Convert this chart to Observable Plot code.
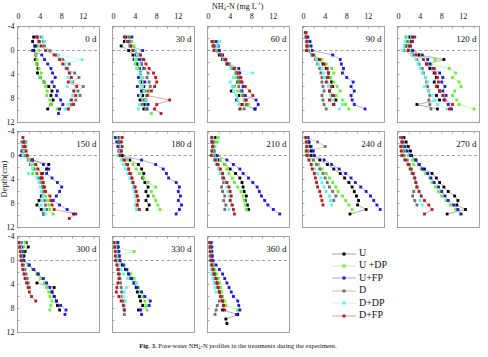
<!DOCTYPE html>
<html><head><meta charset="utf-8">
<script src="https://cdn.jsdelivr.net/npm/d3@7"></script>
<script src="https://cdn.jsdelivr.net/npm/@observablehq/plot@0.6"></script>
<style>
body{margin:0;background:#fff;}
#wrap{position:relative;width:488px;height:357px;font-family:"Liberation Serif","Times New Roman",serif;color:#111;overflow:hidden;}
#wrap svg.plot{position:absolute;left:0;top:0;}
.xt{position:absolute;left:212px;top:1px;font-size:8px;white-space:nowrap;}
.ss{display:inline-block;vertical-align:middle;line-height:4px;font-size:5px;text-align:left;}
.yt{position:absolute;left:-18px;top:174px;font-size:8.5px;transform:rotate(-90deg);transform-origin:center;width:44px;text-align:center;}
.leg{position:absolute;left:332px;top:247px;font-size:10px;}
.leg div{height:12.4px;line-height:12.4px;white-space:nowrap;}
.leg svg{vertical-align:middle;margin-right:3px;}
.cap{position:absolute;left:0;width:476px;top:342px;text-align:center;font-size:6.6px;white-space:nowrap;}
</style></head><body><div id="wrap"></div><script>
const _ = null;
const days = ["0 d","30 d","60 d","90 d","120 d","150 d","180 d","210 d","240 d","270 d","300 d","330 d","360 d"];
const depths = [-3, -2.25, -1.5, -0.75, 0, 0.75, 1.5, 2.25, 3, 3.75, 4.5, 5.25, 6, 6.75, 7.5, 8.25, 9, 9.75, 10.5];
const treatments = ["U", "U +DP", "U+FP", "D", "D+DP", "D+FP"];
const dotColors = ["#000000", "#66ee33", "#1c1cd6", "#707070", "#5ff0f0", "#c01818"];
const lineColors = ["#8a8a8a", "#a8f590", "#8c8cf0", "#b0b0b0", "#a8f8f8", "#e08080"];
const xTicks = [0, 4, 8, 12];
const yTicks = [-4, 0, 4, 8, 12];
const minorX = [0, 2, 4, 6, 8, 10, 12, 14];
const minorY = [-4, -2, 0, 2, 4, 6, 8, 10, 12];

// NH4+-N (mg/L) per panel (rows = days), aligned with depths
const U = [
 [_, 2.8, 2.6, 3.0, 2.8, 3.2, 3.1, 3.4, 3.6, 3.5, 4.0, 4.7, 5.6, 6.2, 6.0, 6.4, 6.0, 5.4, _],
 [_, 2.2, 2.0, 1.4, 2.8, 3.6, 3.8, 4.4, 4.8, 5.0, 5.4, 5.0, 5.6, 5.2, 5.4, 4.9, 5.8, 5.6, _],
 [_, _, 0.8, 1.0, 1.2, 2.0, 2.6, 3.4, 4.6, 5.2, 5.6, 5.4, 4.6, 4.2, 5.6, 5.2, 6.2, 8.6, _],
 [0.4, 0.5, 0.6, 0.7, 0.8, 1.6, 2.6, 3.6, 4.2, 4.6, 4.8, 5.2, 5.4, 4.8, 5.6, 6.0, 5.6, _, _],
 [_, 2.0, 2.4, 1.4, 1.8, 3.8, 8.4, 5.2, 5.8, 6.6, 7.0, 6.6, 7.2, 7.6, 7.0, 7.6, 3.4, 7.2, _],
 [_, 1.0, 1.2, 1.0, 0.8, 2.6, 5.6, 5.2, 4.4, 4.2, 4.0, 4.6, 4.8, 4.2, 3.8, 3.4, 4.2, 4.6, _],
 [0.8, 1.0, 1.2, 1.4, 1.6, 3.0, 4.6, 5.2, 5.6, 5.4, 5.8, 6.4, 6.0, 6.4, 6.0, 6.6, 6.2, _, _],
 [1.2, 1.0, 0.9, 0.8, 0.9, 2.0, 3.0, 4.0, 5.0, 5.8, 6.2, 6.4, 6.6, 7.0, 6.8, 7.2, 7.4, _, _],
 [0.8, 1.0, 1.2, 1.4, 1.4, 3.0, 4.4, 5.6, 6.8, 7.6, 8.4, 9.0, 9.4, 9.8, 10.2, 10.0, 11.6, 8.6, _],
 [1.0, 1.4, 1.8, 2.2, 2.4, 3.2, 3.8, 4.8, 6.2, 7.0, 7.6, 8.4, 9.2, 10.4, 11.0, 10.8, 12.4, 9.0, _],
 [1.4, 1.8, 1.2, 1.0, 0.8, 1.8, 2.8, 3.6, 4.2, 3.4, 6.6, 6.2, 6.6, 7.0, 7.2, 7.6, _, _, _],
 [0.6, 0.7, 0.8, 0.8, 0.9, 1.6, 2.2, 2.8, 3.4, 3.8, 4.2, 4.4, 4.8, 5.0, 5.4, 4.6, _, _, _],
 [0.3, 0.4, 0.5, 0.6, 0.6, 0.8, 1.0, 1.2, 1.4, 1.6, 1.8, 2.0, 2.4, 2.6, 2.8, 2.6, 5.4, 3.2, 3.4]
];
const U_DP = [
 [_, 3.6, 3.9, 3.5, 3.8, 3.2, 3.4, 3.3, 3.8, 4.2, 4.0, 4.6, 5.0, 5.3, 5.2, 5.8, 6.0, 7.2, _],
 [_, 3.0, 3.4, 3.8, 4.0, 4.2, 4.4, 4.0, 4.6, 5.0, 5.2, 5.6, 5.4, 6.0, 6.4, 5.8, 6.2, 6.0, 7.0],
 [_, _, 1.0, 1.2, 1.6, 2.4, 2.8, 3.8, 4.6, 5.0, 5.2, 5.6, 4.8, 5.4, 6.2, 6.6, 7.4, 6.0, _],
 [_, 0.6, 0.8, 1.2, 0.6, 2.0, 3.4, 4.2, 5.2, 5.6, 5.0, 5.6, 6.2, 6.8, 6.0, 7.2, 7.8, 8.4, _],
 [_, 2.4, 2.0, 1.8, 2.2, 4.2, 6.8, 6.0, 9.4, 10.6, 10.0, 11.2, 11.6, 10.4, 10.0, 10.8, 11.2, 14.0, _],
 [_, 1.4, 1.2, 1.0, 1.4, 2.2, 2.8, 3.2, 2.6, 3.6, 4.2, 4.8, 4.6, 5.0, 5.4, 5.6, 5.8, 6.4, _],
 [0.6, 0.8, 1.0, 1.2, 0.8, 2.6, 3.6, 4.2, 4.8, 5.6, 6.4, 7.8, 7.0, 7.4, 7.8, 8.2, 8.6, _, _],
 [1.8, 1.6, 1.2, 1.0, 1.2, 2.2, 3.0, 3.4, 3.8, 4.4, 4.8, 5.4, 6.0, 6.4, 6.6, 6.8, 7.0, _, _],
 [0.5, 0.6, 0.8, 0.8, 0.9, 1.8, 2.8, 3.4, 4.2, 4.8, 5.4, 6.0, 6.4, 7.2, 7.8, 8.4, 9.0, _, _],
 [0.6, 0.8, 1.0, 1.2, 1.8, 2.6, 2.8, 4.2, 5.0, 5.8, 6.2, 6.8, 7.4, 8.0, 8.8, 9.6, 10.6, 11.4, _],
 [1.2, 1.0, 0.8, 0.7, 0.9, 1.8, 2.6, 3.4, 4.2, 4.8, 5.2, 5.6, 5.8, 6.2, 6.0, 5.8, _, _, _],
 [0.4, 0.6, 3.8, 0.8, 1.0, 2.0, 2.6, 3.2, 3.8, 4.2, 4.6, 5.0, 5.4, 5.8, 6.0, 6.2, _, _, _],
 [0.4, 0.5, 0.6, 0.5, 0.6, 0.9, 1.2, 1.5, 1.8, 2.0, 2.2, 2.4, 2.6, 3.0, 3.2, 5.4, _, _, _]
];
const U_FP = [
 [_, 3.4, 3.8, 3.2, 2.6, 4.3, 4.8, 5.4, 6.0, 6.3, 6.8, 6.2, 6.6, 7.2, 7.0, 7.8, 8.2, 7.6, 7.4],
 [_, 3.4, 2.6, 3.0, 5.4, 4.2, 4.8, 5.2, 5.6, 5.0, 4.6, 5.8, 4.4, 5.6, 4.6, 6.0, 6.4, 6.2, _],
 [_, _, 1.4, 1.8, 2.0, 2.6, 3.2, 3.8, 5.6, 5.8, 5.6, 6.0, 6.4, 6.2, 6.8, 8.8, 9.2, 8.6, _],
 [0.4, 0.8, 1.2, 1.4, 1.6, 5.4, 6.8, 7.0, 7.4, 7.2, 8.0, 9.2, 8.8, 9.4, 8.8, 9.0, 9.4, 11.4, _],
 [_, 2.6, 2.4, 2.2, 2.6, 4.4, 5.4, 5.8, 6.6, 7.6, 8.2, 8.0, 8.6, 8.2, 8.8, 8.4, 9.2, 9.8, _],
 [_, 1.2, 1.0, 0.6, 0.4, 2.6, 4.6, 5.6, 5.2, 6.2, 7.2, 8.0, 7.6, 7.0, 6.4, 7.6, 9.0, 10.2, _],
 [0.3, 0.6, 0.8, 1.0, 1.2, 5.2, 7.8, 9.2, 9.8, 10.2, 11.6, 12.2, 12.0, 12.4, 12.0, 12.6, 12.2, 11.6, _],
 [0.8, 0.6, 0.8, 1.0, 1.6, 3.4, 4.6, 5.8, 6.4, 7.4, 8.2, 9.0, 9.4, 9.8, 10.4, 11.0, 12.0, 13.2, _],
 [0.8, 1.0, 1.4, 1.8, 2.0, 3.8, 5.2, 6.6, 7.8, 8.8, 9.6, 10.6, 11.6, 12.4, 13.0, 13.6, 14.2, _, _],
 [0.4, 0.8, 1.2, 1.6, 2.2, 3.2, 3.8, 4.4, 5.4, 6.0, 6.6, 7.4, 8.0, 8.6, 9.2, 10.2, 11.0, 11.6, _],
 [0.5, 0.6, 0.7, 0.8, 1.0, 2.0, 2.8, 3.6, 4.6, 5.2, 5.8, 6.2, 6.6, 7.0, 7.8, 8.8, 8.6, _, _],
 [0.8, 0.9, 1.0, 1.1, 1.2, 1.8, 2.4, 2.8, 3.2, 3.8, 4.4, 5.2, 5.8, 6.8, 6.6, 5.0, 5.2, _, _],
 [0.5, 0.6, 0.6, 0.7, 0.8, 1.4, 2.0, 2.6, 3.0, 3.4, 3.8, 4.2, 4.6, 5.4, 5.6, 5.8, 5.2, _, _]
];
const D = [
 [_, 4.2, 4.6, 4.8, 5.8, 7.0, 8.2, 9.4, 8.8, 10.4, 11.2, 10.0, 12.0, 11.0, 11.4, 10.6, 9.8, 9.2, _],
 [_, 2.8, 3.0, 3.2, 3.6, 4.8, 5.4, 5.2, 5.8, 6.4, 6.2, 6.6, 6.8, 6.4, 6.2, 5.6, 5.2, 6.0, _],
 [_, _, 0.8, 1.2, 1.4, 2.4, 3.0, 3.6, 4.4, 5.2, 5.6, 5.8, 5.6, 6.0, 6.4, 6.8, 7.0, 6.6, _],
 [0.3, 0.4, 0.5, 0.6, 0.5, 1.6, 2.2, 2.6, 3.0, 3.2, 3.4, 3.4, 3.6, 3.8, 3.4, 3.6, 3.8, 4.2, _],
 [_, 1.4, 1.6, 1.2, 1.0, 2.6, 3.4, 3.8, 4.4, 4.6, 5.0, 5.2, 5.4, 5.6, 5.8, 5.6, 5.8, 6.0, _],
 [_, 0.6, 0.8, 0.8, 1.0, 1.8, 2.2, 2.8, 3.4, 3.8, 4.2, 4.4, 4.6, 4.4, 4.8, 5.0, 5.2, 4.6, _],
 [1.2, 1.0, 1.2, 1.0, 1.1, 1.8, 2.4, 2.8, 3.2, 3.4, 3.6, 3.8, 4.0, 4.2, 4.4, 4.2, 4.4, _, _],
 [0.6, 0.6, 0.7, 0.8, 0.9, 1.4, 1.8, 2.0, 2.2, 2.6, 2.8, 2.4, 2.6, 3.0, 2.8, 3.2, 3.0, _, _],
 [0.6, 2.6, 4.0, 0.8, 1.0, 1.8, 2.4, 3.0, 3.6, 4.0, 4.4, 4.8, 5.4, 6.0, 5.6, _, _, _, _],
 [0.4, 0.6, 0.8, 0.9, 1.0, 1.6, 2.0, 2.4, 2.8, 3.0, 3.2, 3.4, 2.8, 2.6, 3.0, 3.4, _, _, _],
 [0.2, 0.3, 0.4, 0.5, 0.6, 0.9, 1.2, 1.4, 1.6, 1.8, 2.0, _, _, _, _, _, _, _, _],
 [0.2, 0.3, 0.4, 0.5, 0.5, 0.8, 1.0, 1.1, 1.2, 1.3, 1.4, 1.5, 1.6, 1.8, 1.9, 2.0, 2.0, _, _],
 [0.2, 0.2, 0.3, 0.3, 0.4, 0.5, 0.6, 0.8, 1.0, 1.2, 1.6, 2.0, 2.4, 2.0, 1.6, 1.4, 1.2, _, _]
];
const D_DP = [
 [_, 4.4, 4.8, 4.0, 5.2, 7.4, 11.8, 8.6, 9.0, 9.6, 9.2, 9.8, 9.0, 10.4, 10.0, 9.6, 9.2, 8.6, _],
 [_, 2.0, 2.4, 3.0, 3.8, 4.4, 4.0, 4.8, 4.2, 5.0, 5.4, 4.8, 5.2, 5.6, 5.0, 6.0, 4.8, 4.6, _],
 [_, _, 2.0, 1.6, 1.2, 2.2, 2.8, 3.8, 4.0, 8.2, 4.6, 4.0, 4.4, 4.6, 5.2, 5.4, 5.6, 5.8, _],
 [_, 0.4, 0.5, 0.6, 0.7, 1.8, 2.4, 2.8, 3.4, 3.8, 4.0, 4.4, 4.6, 4.8, 5.0, 5.4, 7.2, 6.6, _],
 [_, 1.6, 1.2, 1.0, 0.8, 2.4, 3.2, 3.6, 4.0, 4.4, 5.0, 5.4, 4.8, 5.6, 6.2, 6.6, 7.2, 9.0, _],
 [_, 1.2, 1.4, 1.0, 0.8, 2.0, 2.4, 2.6, 1.8, 3.4, 3.8, 4.0, 4.2, 4.6, 4.4, 4.2, 4.8, 5.0, _],
 [1.4, 1.6, 1.4, 1.2, 1.0, 1.4, 1.8, 2.2, 2.6, 3.0, 3.4, 3.6, 3.8, 4.0, 4.2, 4.0, 4.2, _, _],
 [0.8, 0.9, 1.0, 0.8, 0.7, 1.0, 1.4, 1.8, 2.2, 2.8, 3.2, 3.4, 3.6, 3.8, 4.0, 4.2, 3.8, _, _],
 [0.2, 0.4, 0.5, 0.6, 0.6, 1.0, 1.6, 2.0, 2.6, 3.2, 3.4, 3.8, 4.2, 4.8, 5.0, 5.2, _, _, _],
 [0.6, 0.5, 0.4, 0.6, 0.6, 1.0, 1.6, 2.0, 2.4, 2.8, 3.2, 3.6, 3.8, 4.2, 4.0, 4.4, _, _, _],
 [0.3, 0.4, 0.4, 0.5, 0.4, 0.7, 0.9, 1.0, 1.2, 1.4, 1.7, _, _, _, _, _, _, _, _],
 [0.2, 0.4, 0.5, 0.6, 0.6, 1.0, 1.4, 1.8, 2.6, 4.2, 2.4, 2.0, 1.8, 2.2, 2.0, 1.8, _, _, _],
 [0.2, 0.2, 0.3, 0.2, 0.3, 0.4, 0.5, 0.6, 0.8, 1.0, 1.2, 1.4, _, _, _, _, _, _, _]
];
const D_FP = [
 [_, 3.4, 3.8, 4.2, 5.0, 6.6, 7.6, 8.2, 9.0, 9.4, 9.8, 9.2, 10.8, 10.2, 10.6, 9.8, 10.2, 9.2, _],
 [_, 2.0, 2.6, 3.2, 3.6, 5.0, 5.6, 6.0, 6.6, 7.4, 7.8, 8.0, 7.6, 7.0, 6.2, 10.4, 8.0, 7.6, 8.8],
 [_, _, 0.6, 0.8, 1.0, 2.2, 3.0, 3.6, 4.8, 5.6, 6.0, 6.2, 6.8, 7.6, 8.2, 7.0, 6.2, 5.8, _],
 [0.4, 0.5, 0.6, 0.6, 0.6, 1.8, 3.0, 3.8, 4.4, 4.6, 4.4, 4.2, 5.2, 4.8, 5.4, 4.8, 5.6, _, _],
 [_, 3.0, 2.6, 2.0, 1.8, 3.2, 4.6, 5.2, 6.4, 6.8, 7.2, 7.4, 7.0, 7.6, 8.2, 8.6, 10.0, 9.4, _],
 [0.8, 1.0, 1.2, 1.4, 1.6, 2.4, 3.2, 3.6, 4.2, 4.4, 4.6, 4.8, 5.0, 5.8, 6.0, 6.2, 6.6, 10.6, 9.4],
 [1.6, 1.4, 1.6, 1.4, 1.2, 2.0, 2.6, 2.8, 3.0, 3.4, 3.6, 4.0, 4.2, 4.4, 4.6, 4.4, 4.8, _, _],
 [0.6, 0.7, 0.8, 0.6, 0.5, 1.2, 1.6, 2.2, 2.6, 2.8, 3.4, 3.8, 4.0, 4.2, 4.0, 4.4, 4.6, 4.8, _],
 [0.4, 0.5, 0.6, 0.5, 0.6, 1.0, 1.4, 1.6, 2.0, 2.2, 2.4, 2.6, 3.0, 3.2, 3.4, 3.6, _, _, _],
 [0.6, 0.6, 0.4, 0.5, 0.6, 1.2, 1.8, 2.2, 2.6, 3.0, 3.2, 3.4, 3.8, 4.2, 4.8, 5.6, 6.2, 4.8, _],
 [0.1, 0.2, 0.3, 0.4, 0.5, 0.7, 0.8, 1.0, 1.2, 1.5, 1.8, 2.0, 2.4, 3.2, _, _, _, _, _],
 [0.1, 0.2, 0.3, 0.3, 0.4, 0.6, 0.8, 0.9, 1.0, 0.8, 0.6, 0.5, 1.0, 1.4, 1.8, 2.0, _, _, _],
 [0.2, 0.3, 0.3, 0.4, 0.4, 0.6, 0.8, 1.0, 1.4, 1.6, 1.8, 2.0, 2.2, 2.6, 2.8, 3.0, _, _, _]
];
const series = [U, U_DP, U_FP, D, D_DP, D_FP];

const rows = [];
days.forEach((day, p) => {
  series.forEach((s, ti) => {
    s[p].forEach((v, i) => {
      if (v !== null) rows.push({day, col: p % 5, row: Math.floor(p / 5), ti, depth: depths[i], v});
    });
  });
});

const chart = Plot.plot({
  width: 488, height: 336,
  marginLeft: 17.3, marginRight: 8.7, marginTop: 25, marginBottom: 4.3,
  style: {fontFamily: "'Liberation Serif','Times New Roman',serif", fontSize: "8px", background: "transparent", color: "#111"},
  facet: {data: rows, x: "col", y: "row"},
  fx: {axis: null, paddingInner: 0.137, paddingOuter: 0},
  fy: {axis: null, paddingInner: 0.09, paddingOuter: 0},
  x: {domain: [-0.2, 15], axis: "top", ticks: xTicks, tickSize: 0, tickPadding: 8, label: null, tickFormat: d => String(d)},
  y: {domain: [-4, 12], reverse: true, ticks: yTicks, tickSize: 0, tickPadding: 3, label: null, tickFormat: d => String(d)},
  color: {type: "identity"},
  marks: [
    Plot.ruleY(rows, Plot.selectFirst({y: () => 0, stroke: "#8a8a8a", strokeWidth: 0.8, strokeDasharray: "3,2.5"})),
    Plot.ruleX(minorX, {x: d => d, y1: -4, y2: -3.6, stroke: "#777", strokeWidth: 0.7}),
    Plot.ruleY(minorY, {y: d => d, x1: -0.2, x2: 0.25, stroke: "#777", strokeWidth: 0.7}),
    Plot.line(rows, {x: "v", y: "depth", z: "ti", stroke: d => lineColors[d.ti], strokeWidth: 0.7}),
    Plot.dot(rows, {x: "v", y: "depth", symbol: "square", r: 1.6, fill: d => dotColors[d.ti], stroke: "none"}),
    Plot.text(rows, Plot.selectFirst({text: "day", frameAnchor: "top-right", textAnchor: "end", lineAnchor: "top", dx: -3, dy: 9, fontSize: 9, fill: "#111"})),
    Plot.frame({stroke: "#999", strokeWidth: 0.9})
  ]
});
chart.classList.add("plot");

const wrap = document.getElementById("wrap");
wrap.appendChild(chart);

const xt = document.createElement("div");
xt.className = "xt";
xt.innerHTML = 'NH<span class="ss">+<br>4</span>-N (mg L<sup style="font-size:5px">-1</sup>)';
wrap.appendChild(xt);

const yt = document.createElement("div");
yt.className = "yt";
yt.textContent = "Depth(cm)";
wrap.appendChild(yt);

const leg = document.createElement("div");
leg.className = "leg";
treatments.forEach((t, i) => {
  const row = document.createElement("div");
  row.innerHTML = `<svg width="24" height="6"><line x1="0" y1="3" x2="24" y2="3" stroke="${lineColors[i]}" stroke-width="0.8"/><rect x="10.5" y="1.5" width="3" height="3" fill="${dotColors[i]}"/></svg>${t}`;
  leg.appendChild(row);
});
wrap.appendChild(leg);

const cap = document.createElement("div");
cap.className = "cap";
cap.innerHTML = '<b>Fig. 3.</b> Pore-water NH<span class="ss" style="font-size:4.5px;line-height:3.5px">+<br>4</span>-N profiles in the treatments during the experiment.';
wrap.appendChild(cap);
</script></body></html>
